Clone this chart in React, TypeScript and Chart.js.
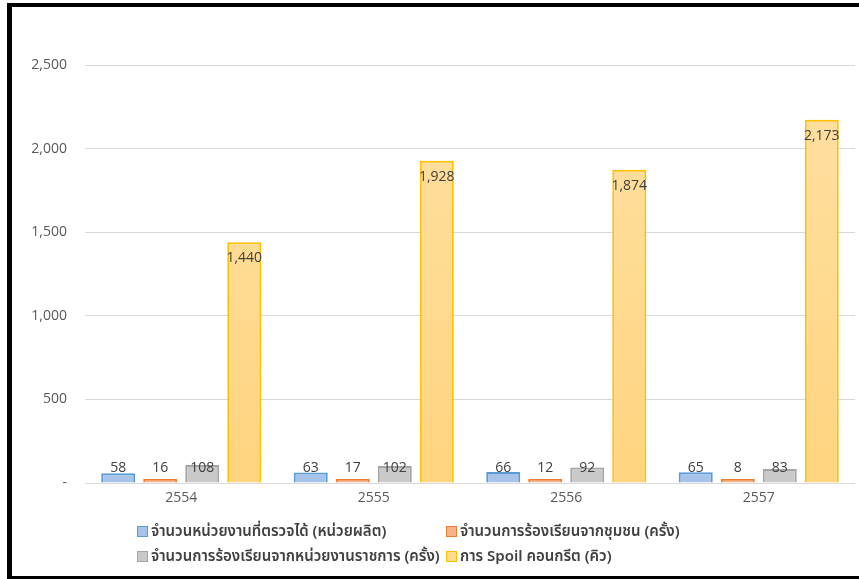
import React, { useEffect, useRef } from "react";
import { Chart, registerables } from "chart.js";

Chart.register(...registerables);

const categories = ["2554", "2555", "2556", "2557"];
const seriesNames = [
  "จำนวนหน่วยงานที่ตรวจได้ (หน่วยผลิต)",
  "จำนวนการร้องเรียนจากชุมชน (ครั้ง)",
  "จำนวนการร้องเรียนจากหน่วยงานราชการ (ครั้ง)",
  "การ Spoil คอนกรีต (คิว)",
];
const unitsInspected = [58, 63, 66, 65];
const communityComplaints = [16, 17, 12, 8];
const govComplaints = [108, 102, 92, 83];
const concreteSpoil = [1440, 1928, 1874, 2173];
const yTickValues = [0, 500, 1000, 1500, 2000, 2500];

const fills = ["#a7c3ea", "#f5b389", "#c9c9c9", "#ffd98e"];
const borders = ["#5b9bd5", "#ed7d31", "#a5a5a5", "#ffc000"];

const fmt = (v: number) => (v === 0 ? "-" : v.toLocaleString("en-US"));

const labelPlugin = {
  id: "valueLabels",
  afterDatasetsDraw(chart: any) {
    const ctx = chart.ctx;
    const yScale = chart.scales.y;
    const base = yScale.getPixelForValue(0);
    ctx.save();
    ctx.font = "14px 'Open Sans', 'DejaVu Sans', sans-serif";
    ctx.fillStyle = "#404040";
    ctx.textAlign = "center";
    ctx.textBaseline = "middle";
    chart.data.datasets.forEach((ds: any, di: number) => {
      const meta = chart.getDatasetMeta(di);
      meta.data.forEach((el: any, i: number) => {
        const v = ds.data[i];
        const y = di === 3 ? el.y + 16 : base - 15;
        ctx.fillText(fmt(v), el.x, y);
      });
    });
    ctx.restore();
  },
};

export default function App() {
  const ref = useRef<HTMLCanvasElement>(null);
  useEffect(() => {
    if (!ref.current) return;
    const seriesData = [unitsInspected, communityComplaints, govComplaints, concreteSpoil];
    const chart = new Chart(ref.current, {
      type: "bar",
      data: {
        labels: categories,
        datasets: seriesData.map((d, i) => ({
          label: seriesNames[i],
          data: d,
          backgroundColor: (c: any) => {
            const area = c.chart.chartArea;
            if (!area || i !== 3) return fills[i];
            const g = c.chart.ctx.createLinearGradient(0, area.top, 0, area.bottom);
            g.addColorStop(0, "#ffe0a3");
            g.addColorStop(1, "#ffd47f");
            return g;
          },
          borderColor: borders[i],
          borderWidth: 2,
          minBarLength: 4,
          barPercentage: 0.81,
          categoryPercentage: 0.873,
        })),
      },
      options: {
        animation: false,
        responsive: false,
        layout: { padding: { top: 65, right: 4, bottom: 66, left: 0 } },
        plugins: { legend: { display: false }, tooltip: { enabled: false } },
        scales: {
          x: {
            grid: { display: false, drawTicks: false },
            border: { display: false },
            ticks: {
              color: "#595959",
              padding: 7,
              font: { size: 14, family: "'Open Sans', 'DejaVu Sans', sans-serif" },
            },
            afterFit: (s: any) => {
              s.height = 30;
            },
          },
          y: {
            min: 0,
            max: 2500,
            afterBuildTicks: (s: any) => {
              s.ticks = yTickValues.map((v) => ({ value: v }));
            },
            grid: { color: "#d9d9d9", drawTicks: false, lineWidth: 1 },
            border: { display: false },
            ticks: {
              color: "#595959",
              padding: 18,
              font: { size: 14, family: "'Open Sans', 'DejaVu Sans', sans-serif" },
              callback: (v: any) => fmt(Number(v)),
            },
            afterFit: (s: any) => {
              s.width = 85;
            },
          },
        },
      },
      plugins: [labelPlugin],
    });
    return () => chart.destroy();
  }, []);

  const legendPos = [
    { left: 137, top: 531 },
    { left: 446, top: 531 },
    { left: 137, top: 556 },
    { left: 446, top: 556 },
  ];

  return (
    <div
      style={{
        position: "fixed",
        left: 0,
        top: 0,
        width: 859,
        height: 579,
        overflow: "hidden",
        background: "#fff",
      }}
    >
      <div
        style={{
          position: "absolute",
          left: 7,
          top: 3,
          width: 900,
          height: 569,
          borderLeft: "5px solid #000",
          borderTop: "4px solid #000",
          borderBottom: "3px solid #000",
          boxSizing: "content-box",
        }}
      />
      <canvas
        ref={ref}
        width={859}
        height={579}
        style={{ position: "absolute", left: 0, top: 0, width: 859, height: 579 }}
      />
      {seriesNames.map((n, i) => (
        <div
          key={n}
          style={{
            position: "absolute",
            left: legendPos[i].left,
            top: legendPos[i].top - 10,
            height: 20,
            display: "flex",
            alignItems: "center",
            whiteSpace: "nowrap",
            fontFamily: "Tahoma, 'Noto Sans Thai', 'Noto Sans', 'DejaVu Sans', sans-serif",
            fontSize: 15,
            fontWeight: 600,
            color: "#404040",
          }}
        >
          <span
            style={{
              display: "inline-block",
              width: 9,
              height: 9,
              background: fills[i],
              border: `1px solid ${borders[i]}`,
              marginRight: 3,
            }}
          />
          <span>{n}</span>
        </div>
      ))}
    </div>
  );
}
